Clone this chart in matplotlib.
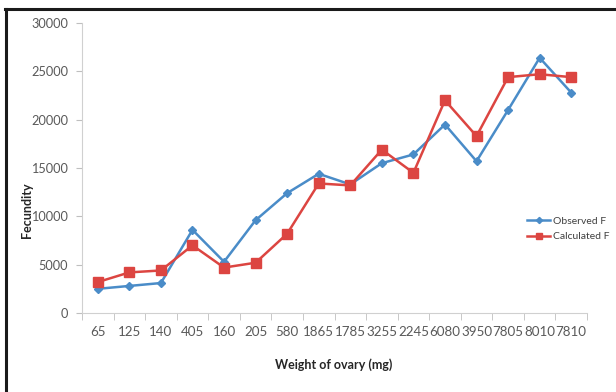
import numpy as np
from matplotlib import pyplot as plt
from matplotlib.lines import Line2D

# peso del ovario (mg) y fecundidad observada / calculada
weights = ['65', '125', '140', '405', '160', '205', '580', '1865', '1785',
           '3255', '2245', '6080', '3950', '7805', '8010', '7810']
observed = [2500, 2800, 3100, 8600, 5300, 9600, 12400, 14400, 13300,
            15500, 16400, 19500, 15700, 21000, 26400, 22800]
calculated = [3200, 4200, 4400, 7000, 4700, 5200, 8200, 13400, 13200,
              16900, 14500, 22000, 18300, 24400, 24700, 24400]

plt.rcParams['font.family'] = ['Lato', 'DejaVu Sans']

W, H = 616, 392
fig = plt.figure(figsize=(W/100, H/100), dpi=100)
ax = fig.add_axes([82/W, 1-313/H, 505/W, 290/H])

x = np.arange(len(weights))
ax.plot(x, observed, color='#4a8cc8', lw=1.8, marker='D', ms=4.5, label='Observed F')
ax.plot(x, calculated, color='#dc4541', lw=1.8, marker='s', ms=6.5, label='Calculated F')

ax.set_xlim(-0.5, len(weights)-0.5)
ax.set_ylim(0, 30000)
ax.set_yticks(np.arange(0, 30001, 5000))
ax.set_xticks(x)
ax.set_xticklabels(weights)
ax.set_xticks(np.arange(-0.5, len(weights), 1), minor=True)
ax.tick_params(axis='x', which='major', length=0, pad=9, labelsize=9.6, labelcolor='#595959')
ax.tick_params(axis='x', which='minor', length=5, color='#bfbfbf', direction='out')
ax.tick_params(axis='y', length=4, color='#bfbfbf', labelsize=9.2, labelcolor='#595959', pad=6)
for s in ['top', 'right']:
    ax.spines[s].set_visible(False)
for s in ['left', 'bottom']:
    ax.spines[s].set_color('#d0d0d0')

fig.text(334/W, 1-365/H, 'Weight of ovary (mg)', ha='center', va='center',
         fontsize=9, fontweight='bold', color='#262626')
fig.text(27/W, 1-210/H, 'Fecundity', ha='center', va='center', rotation=90,
         fontsize=9, fontweight='bold', color='#262626')

leg = fig.legend(loc='upper left', bbox_to_anchor=(518/W, 1-207/H), frameon=False,
                 fontsize=7.5, handlelength=2.2, handletextpad=0.3, labelspacing=0.6,
                 markerscale=0.7)
for t in leg.get_texts():
    t.set_color('#404040')

# marco negro a la izquierda y arriba
fig.add_artist(Line2D([5.5/W, 5.5/W], [0, 1-9/H], color='#1a1a1a', lw=2.2))
fig.add_artist(Line2D([4.5/W, 1], [1-9/H, 1-9/H], color='#1a1a1a', lw=2.2))

fig.savefig('out.png', dpi=100)
